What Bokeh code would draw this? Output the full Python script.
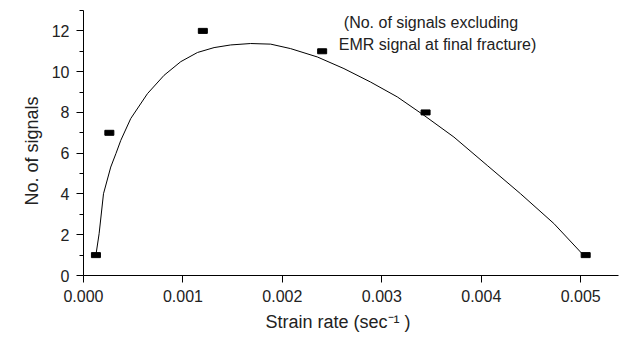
from bokeh.plotting import figure
from bokeh.models import Range1d, FixedTicker, PrintfTickFormatter, Label, Title
from bokeh.embed import file_html
from bokeh.resources import INLINE

# measured points
strain_rate = [0.000125, 0.00026, 0.0012, 0.0024, 0.00344, 0.00505]
signals = [1, 7, 12, 11, 8, 1]

# fitted curve
curve_x = [0.000124, 0.000157, 0.000201, 0.000274, 0.000326, 0.000375, 0.000475,
           0.000643, 0.000810, 0.000978, 0.001146, 0.001313, 0.001480, 0.001681,
           0.001882, 0.002083, 0.002352, 0.002619, 0.002887, 0.003156, 0.003423,
           0.003725, 0.004060, 0.004395, 0.004730, 0.005008]
curve_y = [0.98, 2.05, 4.01, 5.32, 5.98, 6.63, 7.70, 8.92, 9.82, 10.49, 10.94,
           11.18, 11.31, 11.38, 11.35, 11.13, 10.72, 10.15, 9.49, 8.76, 7.86,
           6.79, 5.40, 4.01, 2.55, 1.10]

x_ticks = [0.0, 0.001, 0.002, 0.003, 0.004, 0.005]
y_ticks = [0, 2, 4, 6, 8, 10, 12]
y_minor = [1, 3, 5, 7, 9, 11, 13]

x_title = "Strain rate (sec\u207b\u00b9 )"
y_title = "No. of signals"
note_lines = ["(No. of signals excluding", "EMR signal at final fracture)"]

FONT = "Liberation Sans"
TXT = "#222222"

p = figure(width=634, height=342, output_backend="svg", toolbar_location=None,
           x_range=Range1d(0, 0.00538), y_range=Range1d(0, 13),
           min_border_left=83, min_border_right=16, min_border_top=10,
           min_border_bottom=67)
p.outline_line_color = None
p.xgrid.visible = False
p.ygrid.visible = False
p.background_fill_color = "white"

p.line(curve_x, curve_y, line_color="black", line_width=1)
p.rect(strain_rate, signals, width=9, height=5, width_units="screen",
       height_units="screen", fill_color="black", line_color="black")

p.xaxis.ticker = FixedTicker(ticks=x_ticks)
p.xaxis.formatter = PrintfTickFormatter(format="%.3f")
p.yaxis.ticker = FixedTicker(ticks=y_ticks, minor_ticks=y_minor)

for ax in (p.xaxis[0], p.yaxis[0]):
    ax.axis_line_color = "black"
    ax.major_tick_line_color = "black"
    ax.minor_tick_line_color = "black"
    ax.major_tick_in = 0
    ax.major_tick_out = 7
    ax.minor_tick_in = 0
    ax.minor_tick_out = 4
    ax.major_label_text_font = FONT
    ax.major_label_text_font_size = "16px"
    ax.major_label_text_color = TXT
    ax.major_label_standoff = 7

p.xaxis.minor_tick_line_color = None

# axis titles as side titles, shifted to match the reference
p.add_layout(Title(text=x_title, align="left", offset=182, standoff=10,
                   text_font=FONT, text_font_size="18px", text_font_style="normal",
                   text_color=TXT), "below")
p.add_layout(Title(text=y_title, align="left", offset=70, standoff=13,
                   text_font=FONT, text_font_size="18px", text_font_style="normal",
                   text_color=TXT), "left")

p.add_layout(Label(x=0.002618, y=12.41, text=note_lines[0], text_baseline="middle",
                   text_font=FONT, text_font_size="16px", text_color=TXT))
p.add_layout(Label(x=0.002568, y=11.33, text=note_lines[1], text_baseline="middle",
                   text_font=FONT, text_font_size="16px", text_color=TXT))

open("out.html", "w").write(file_html(p, INLINE))
